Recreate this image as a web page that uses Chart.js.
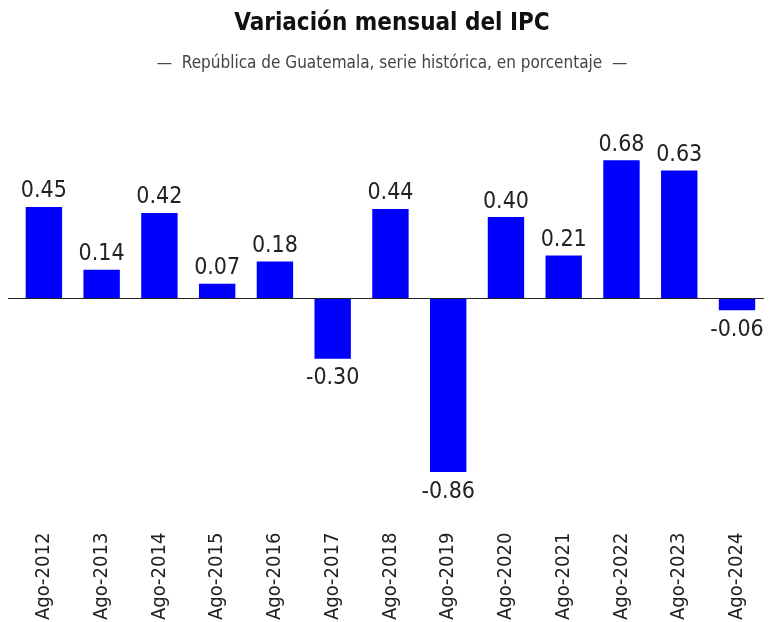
<!DOCTYPE html>
<html>
<head>
<meta charset="utf-8">
<script src="https://cdn.jsdelivr.net/npm/chart.js@4"></script>
<style>
  html, body { margin: 0; padding: 0; background: #ffffff; }
  #wrap { width: 769px; height: 622px; }
</style>
</head>
<body>
<div id="wrap"><canvas id="ipcChart"></canvas></div>
<script>
// Data
const periods = ['Ago-2012', 'Ago-2013', 'Ago-2014', 'Ago-2015', 'Ago-2016', 'Ago-2017', 'Ago-2018',
                 'Ago-2019', 'Ago-2020', 'Ago-2021', 'Ago-2022', 'Ago-2023', 'Ago-2024'];
const monthlyChange = [0.45, 0.14, 0.42, 0.07, 0.18, -0.30, 0.44, -0.86, 0.40, 0.21, 0.68, 0.63, -0.06];

const narrowFont = "'Liberation Sans Narrow', 'DejaVu Sans Condensed', 'Open Sans', sans-serif";

// Value labels above / below each bar, plus the zero line
const barLabels = {
    id: 'barLabels',
    afterDatasetsDraw(chart) {
        const ctx = chart.ctx;
        const yScale = chart.scales.y;
        const area = chart.chartArea;
        const zeroY = yScale.getPixelForValue(0);

        ctx.save();
        ctx.strokeStyle = '#222222';
        ctx.lineWidth = 1;
        ctx.beginPath();
        ctx.moveTo(area.left - 7, Math.round(zeroY) + 0.5);
        ctx.lineTo(area.right - 2, Math.round(zeroY) + 0.5);
        ctx.stroke();

        ctx.fillStyle = '#222222';
        ctx.font = '23px ' + narrowFont;
        ctx.textAlign = 'center';
        chart.getDatasetMeta(0).data.forEach(function(bar, i) {
            const v = monthlyChange[i];
            if (v >= 0) {
                ctx.textBaseline = 'bottom';
                ctx.fillText(v.toFixed(2), bar.x, bar.y - 4);
            } else {
                ctx.textBaseline = 'top';
                ctx.fillText(v.toFixed(2), bar.x, bar.y + 8);
            }
        });
        ctx.restore();
    }
};

new Chart(document.getElementById('ipcChart').getContext('2d'), {
    type: 'bar',
    data: {
        labels: periods,
        datasets: [{
            data: monthlyChange,
            backgroundColor: '#0000ff',
            borderWidth: 0,
            categoryPercentage: 1.0,
            barPercentage: 0.63
        }]
    },
    options: {
        responsive: true,
        maintainAspectRatio: false,
        animation: false,
        layout: { padding: { left: 15, right: 0, top: 0, bottom: -6 } },
        scales: {
            y: {
                display: false,
                min: -1.08,
                max: 0.75
            },
            x: {
                grid: { display: false },
                border: { display: false },
                ticks: {
                    color: '#222222',
                    minRotation: 90,
                    maxRotation: 90,
                    padding: 8,
                    font: { family: narrowFont, size: 20 }
                }
            }
        },
        plugins: {
            legend: { display: false },
            tooltip: { enabled: false },
            title: {
                display: true,
                text: 'Variación mensual del IPC',
                color: '#111111',
                font: { family: narrowFont, size: 24, weight: 'bold' },
                padding: { top: 9, bottom: 16 }
            },
            subtitle: {
                display: true,
                text: '—  República de Guatemala, serie histórica, en porcentaje  —',
                color: '#444444',
                font: { family: narrowFont, size: 17 },
                padding: { bottom: 72 }
            }
        }
    },
    plugins: [barLabels]
});
</script>
</body>
</html>
